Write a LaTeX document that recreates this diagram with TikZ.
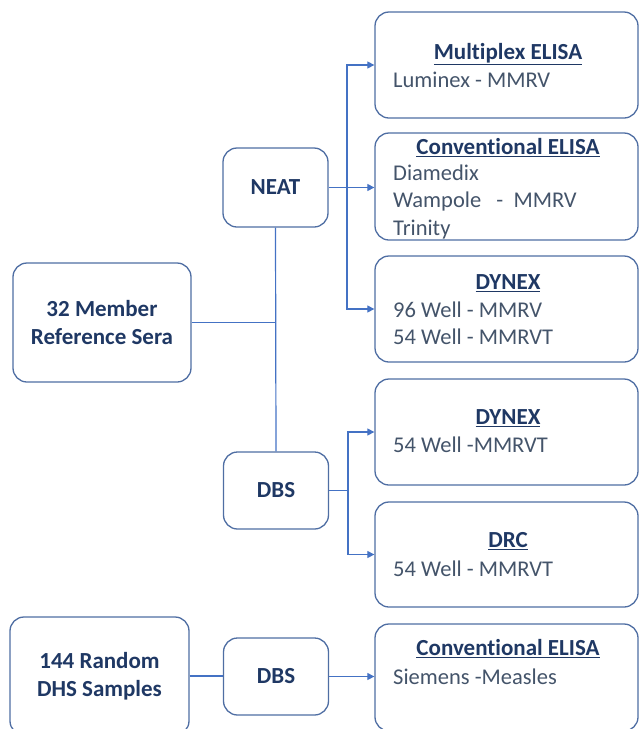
\documentclass[tikz,border=0pt]{standalone}
\usepackage{fontspec}
\setmainfont{Carlito}[Ligatures=NoCommon]
\usetikzlibrary{arrows.meta}
\definecolor{navy}{HTML}{1F3864}
\definecolor{bodytx}{HTML}{44546A}
\definecolor{boxline}{HTML}{4F6EA3}
\definecolor{connc}{HTML}{4472C4}
\begin{document}
\begin{tikzpicture}[x=1pt,y=-1pt,
 box/.style={draw=boxline, line width=1.3pt, rounded corners=14pt, fill=white, inner sep=0pt},
 lbl/.style={font=\fontsize{23}{28}\selectfont\bfseries, text=navy, align=center},
 rbox/.style={box, minimum width=263pt},
 ttl/.style={font=\fontsize{23}{26}\selectfont\bfseries, text=navy, inner sep=0pt, text height=15pt, text depth=0pt},
 txt/.style={font=\fontsize{22.5}{26}\selectfont, text=bodytx, inner sep=0pt, anchor=west, text height=15pt, text depth=0pt},
 link/.style={draw=connc, line width=1.2pt},
 arr/.style={link, -{Triangle[length=7pt,width=7pt]}}]
\clip (0,0) rectangle (639,729);
% left column
\node[box, lbl, minimum width=178pt, minimum height=119pt] (m32) at (102,322.5) {32 Member\\Reference Sera};
\node[box, lbl, minimum width=179pt, minimum height=118pt] (r144) at (99.5,676) {144 Random\\DHS Samples};
% middle column
\node[box, lbl, minimum width=105pt, minimum height=79pt] (neat) at (275.5,187.5) {NEAT};
\node[box, lbl, minimum width=105pt, minimum height=77pt] (dbsa) at (276,490.5) {DBS};
\node[box, lbl, minimum width=105pt, minimum height=77pt] (dbsb) at (276,676.5) {DBS};
% right column boxes
\node[rbox, minimum height=106pt] (b1) at (506.5,65) {};
\node[rbox, minimum height=107pt] (b2) at (506.5,186.5) {};
\node[rbox, minimum height=106pt] (b3) at (506.5,309) {};
\node[rbox, minimum height=106pt] (b4) at (506.5,432) {};
\node[rbox, minimum height=105pt] (b5) at (506.5,554.5) {};
\node[rbox, minimum height=107pt] (b6) at (506.5,677.5) {};
% right column texts
\node[ttl] (t1) at (508,52) {\underline{Multiplex ELISA}};
\node[txt] (t1a) at (393,80) {Luminex - MMRV};
\node[ttl] (t2) at (508,147) {\underline{Conventional ELISA}};
\node[txt] (t2a) at (393,173) {Diamedix};
\node[txt] (t2b) at (393,200) {Wampole\ \ \ -\ \ MMRV};
\node[txt] (t2c) at (393,228) {Trinity};
\node[ttl] (t3) at (508,282) {\underline{DYNEX}};
\node[txt] (t3a) at (393,310) {96 Well - MMRV};
\node[txt] (t3b) at (393,337) {54 Well - MMRVT};
\node[ttl] (t4) at (508,417) {\underline{DYNEX}};
\node[txt] (t4a) at (393,445) {54 Well -MMRVT};
\node[ttl] (t5) at (508,540) {\underline{DRC}};
\node[txt] (t5a) at (393,569) {54 Well - MMRVT};
\node[ttl] (t6) at (508,648) {\underline{Conventional ELISA}};
\node[txt] (t6a) at (393,677) {Siemens -Measles};
% connectors
\coordinate (busa) at (347,187.5);
\coordinate (busb) at (348,490.5);
\draw[link] (neat.south) -- (dbsa.north);
\draw[link] (m32.east) -- (m32.east -| neat.south);
\draw[arr] (neat.east) -- (neat.east -| b2.west);
\draw[arr] (busa) |- (b1.west);
\draw[arr] (busa) |- (b3.west);
\draw[link] (dbsa.east) -- (busb);
\draw[arr] (busb) |- (b4.west);
\draw[arr] (busb) |- (b5.west);
\draw[link] (r144.east) -- (r144.east -| dbsb.west);
\draw[arr] (dbsb.east) -- (dbsb.east -| b6.west);
\end{tikzpicture}
\end{document}
